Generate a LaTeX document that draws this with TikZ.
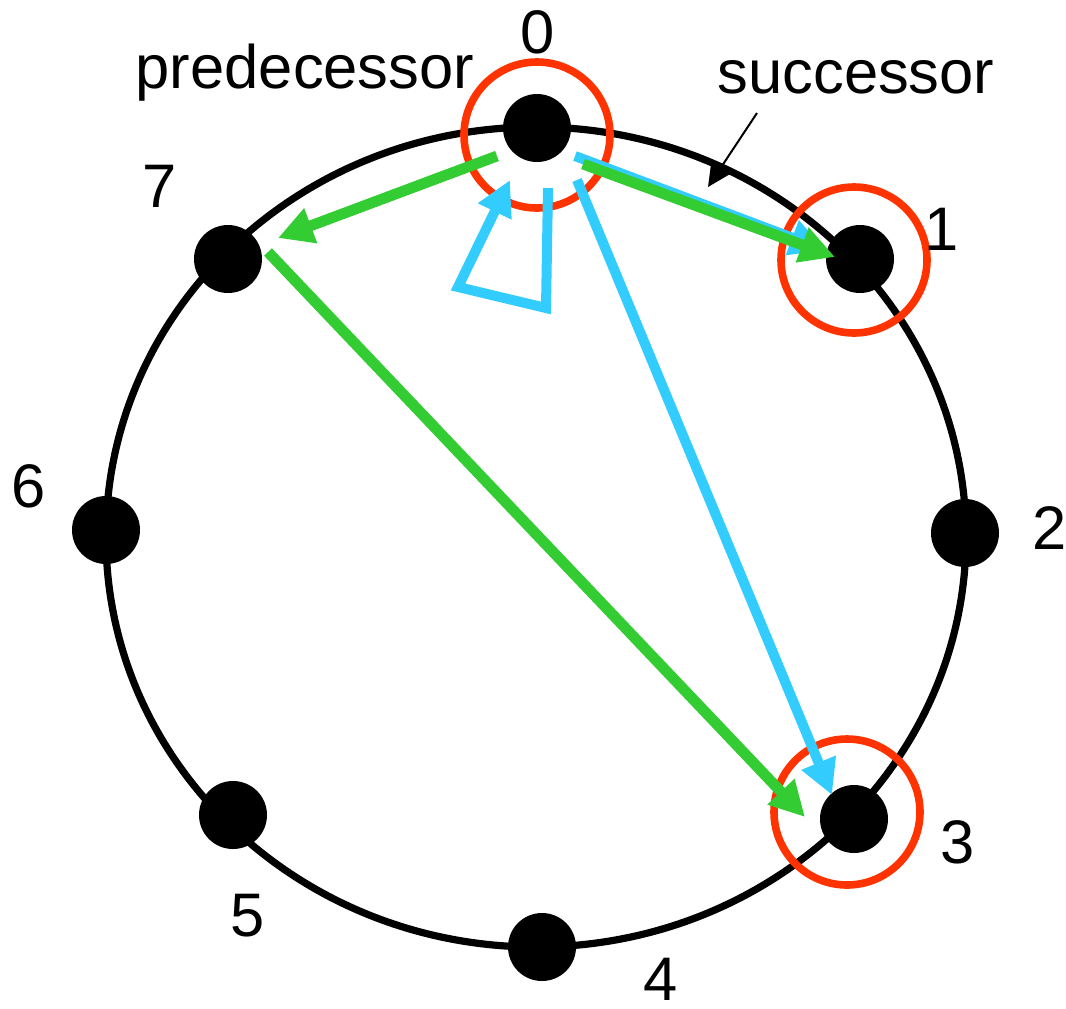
\documentclass[tikz,border=0pt]{standalone}
\usepackage{fontspec}
\setmainfont{Liberation Sans}
\usetikzlibrary{arrows.meta}
\definecolor{ringred}{HTML}{FF3300}
\definecolor{arrgreen}{HTML}{33CC33}
\definecolor{arrblue}{HTML}{33CCFF}
\tikzset{
  dot/.style={circle,fill=black,inner sep=0pt,minimum size=34pt},
  lbl/.style={anchor=base,inner sep=0pt,font=\fontsize{30.75pt}{36pt}\selectfont},
  hilite/.style={draw=ringred,line width=3.8pt},
  garrow/.style={draw=arrgreen,line width=5.4pt,-{Triangle[length=17.5pt,width=17.5pt]}},
  barrow/.style={draw=arrblue,line width=5pt,line join=miter,-{Triangle[length=17.5pt,width=17.5pt]}},
  pointer/.style={draw=black,line width=1pt,-{Triangle[length=11.5pt,width=11pt]}}
}
\begin{document}
\begin{tikzpicture}[x=0.5pt,y=-0.5pt]
\useasboundingbox (0,0) rectangle (1066,1008);
% ring
\draw[line width=3.6pt] (536,537) ellipse [x radius=215pt, y radius=205pt];
% dots
\node[dot] (n0) at (537,128) {};
\node[dot] (n1) at (860,259) {};
\node[dot] (n2) at (965,533) {};
\node[dot] (n3) at (854,819) {};
\node[dot] (n4) at (542,947) {};
\node[dot] (n5) at (233,815) {};
\node[dot] (n6) at (106,530) {};
\node[dot] (n7) at (228,259) {};
% highlight circles
\node[hilite,circle,inner sep=0pt,minimum size=73pt] (h0) at (537,135) {};
\node[hilite,circle,inner sep=0pt,minimum size=73pt] (h1) at (854,260) {};
\node[hilite,circle,inner sep=0pt,minimum size=73pt] (h3) at (847,812) {};
% labels
\node[lbl] (l0) at (538,53) {0};
\node[lbl] (l1) at (942,250) {1};
\node[lbl] (l2) at (1050,549) {2};
\node[lbl] (l3) at (958,863) {3};
\node[lbl] (l4) at (661,1000) {4};
\node[lbl] (l5) at (248,936) {5};
\node[lbl] (l6) at (29,507) {6};
\node[lbl] (l7) at (160,207) {7};
\node[lbl] (pred) at (305,88) {predecessor};
\node[lbl] (succ) at (856,93) {successor};
% connector end points
\coordinate (b01s) at (575,156);
\coordinate (b01t) at (825,250);
\coordinate (b03s) at (577,180);
\coordinate (b03t) at (832,795);
\coordinate (bl1) at (548,188);
\coordinate (bl2) at (546,308);
\coordinate (bl3) at (458,287);
\coordinate (blt) at (510,180);
\coordinate (g07s) at (497,156);
\coordinate (g07t) at (278,238);
\coordinate (g73s) at (268,252);
\coordinate (g73t) at (805,817);
\coordinate (g01s) at (583,164);
\coordinate (g01t) at (835,257);
\coordinate (ps) at (757,113);
\coordinate (pt) at (708,187);
% blue arrows
\draw[barrow] (b01s) -- (b01t);
\draw[barrow] (b03s) -- (b03t);
\draw[barrow] (bl1) -- (bl2) -- (bl3) -- (blt);
% green arrows
\draw[garrow] (g07s) -- (g07t);
\draw[garrow] (g73s) -- (g73t);
\draw[garrow] (g01s) -- (g01t);
% successor pointer
\draw[pointer] (ps) -- (pt);
\end{tikzpicture}
\end{document}
